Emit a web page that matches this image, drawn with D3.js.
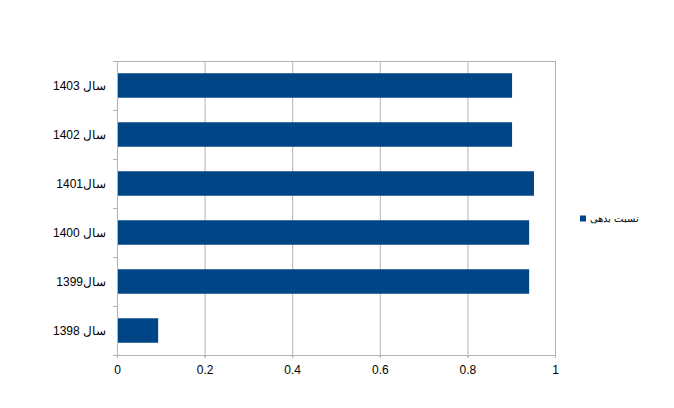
<!DOCTYPE html>
<html lang="fa">
	<head>
		<meta charset="utf-8">
		<title>نسبت بدهی</title>
		<script type="text/javascript" src="https://cdn.jsdelivr.net/npm/d3@7/dist/d3.min.js"></script>
		<style type="text/css">
			body { margin: 0; background: #fff; }
			text { font-family: "Liberation Sans", Arial, sans-serif; }
		</style>
	</head>
	<body>
		<script type="text/javascript">
			//Data, bottom to top
			var categories = ["سال 1398", "سال1399", "سال 1400", "سال1401", "سال 1402", "سال 1403"];
			var values = [0.094, 0.941, 0.941, 0.952, 0.902, 0.902];
			var xTicks = [0, 0.2, 0.4, 0.6, 0.8, 1];
			var seriesName = "نسبت بدهی";

			//Width and height
			var w = 674;
			var h = 408;
			var margin = {top: 61, right: 119, bottom: 53, left: 117};
			var gridColor = "#b3b3b3";
			var barColor = "#004586";

			var svg = d3.select("body")
						.append("svg")
						.attr("width", w)
						.attr("height", h);

			var x = d3.scaleLinear()
					  .domain([0, 1])
					  .range([margin.left, w - margin.right]);

			//top category first
			var y = d3.scaleBand()
					  .domain(categories.slice().reverse())
					  .range([margin.top, h - margin.bottom])
					  .paddingInner(0.5)
					  .paddingOuter(0.25);

			var yBand = d3.scaleBand()
						  .domain(categories.slice().reverse())
						  .range([margin.top, h - margin.bottom]);

			//Gridlines
			svg.selectAll("line.grid")
			   .data(xTicks)
			   .enter()
			   .append("line")
			   .attr("class", "grid")
			   .attr("x1", function(d) { return x(d) + 0.5; })
			   .attr("x2", function(d) { return x(d) + 0.5; })
			   .attr("y1", margin.top)
			   .attr("y2", h - margin.bottom + 3)
			   .attr("stroke", gridColor);

			//top border
			svg.append("line")
			   .attr("x1", x(0))
			   .attr("x2", x(1) + 1)
			   .attr("y1", margin.top + 0.5)
			   .attr("y2", margin.top + 0.5)
			   .attr("stroke", gridColor);

			//Bars
			svg.selectAll("rect.bar")
			   .data(values)
			   .enter()
			   .append("rect")
			   .attr("class", "bar")
			   .attr("x", x(0) + 1)
			   .attr("y", function(d, i) { return y(categories[i]); })
			   .attr("width", function(d) { return x(d) - x(0) - 1; })
			   .attr("height", y.bandwidth())
			   .attr("fill", barColor);

			//X axis
			var xAxis = d3.axisBottom(x)
						  .tickValues(xTicks)
						  .tickSize(3)
						  .tickFormat(d3.format("~g"));

			var gx = svg.append("g")
						.attr("transform", "translate(0," + (h - margin.bottom) + ")")
						.call(xAxis);
			gx.select(".domain").attr("stroke", gridColor).attr("d", "M" + (x(0) - 4) + ",0.5H" + (x(1) + 1));
			gx.selectAll(".tick line").attr("stroke", gridColor);
			gx.selectAll(".tick text")
			  .attr("dy", "1.05em")
			  .attr("font-size", 12)
			  .attr("fill", "#000")
			  .style("font-family", "Liberation Sans, Arial, sans-serif");

			//Y axis line and ticks at band edges
			var edges = categories.map(function(c) { return yBand(c); }).concat([h - margin.bottom]);
			svg.append("line")
			   .attr("x1", x(0) + 0.5)
			   .attr("x2", x(0) + 0.5)
			   .attr("y1", margin.top)
			   .attr("y2", h - margin.bottom)
			   .attr("stroke", gridColor);
			svg.selectAll("line.ytick")
			   .data(edges)
			   .enter()
			   .append("line")
			   .attr("class", "ytick")
			   .attr("x1", x(0) - 4)
			   .attr("x2", x(0))
			   .attr("y1", function(d) { return Math.round(d) + 0.5; })
			   .attr("y2", function(d) { return Math.round(d) + 0.5; })
			   .attr("stroke", gridColor);

			//Category labels
			svg.selectAll("text.cat")
			   .data(categories)
			   .enter()
			   .append("text")
			   .attr("class", "cat")
			   .attr("x", x(0) - 11)
			   .attr("y", function(d) { return yBand(d) + yBand.bandwidth() / 2; })
			   .attr("dy", "0.35em")
			   .attr("text-anchor", "end")
			   .attr("font-size", 12)
			   .attr("fill", "#000")
			   .text(function(d) { return d; });

			//Legend
			var legend = svg.append("g")
							.attr("transform", "translate(580,218.5)");
			legend.append("rect")
				  .attr("x", 0)
				  .attr("y", -3)
				  .attr("width", 6)
				  .attr("height", 6)
				  .attr("fill", barColor);
			legend.append("text")
				  .attr("x", 10)
				  .attr("dy", "0.35em")
				  .attr("font-size", 10)
				  .attr("fill", "#000")
				  .text(seriesName);
		</script>
	</body>
</html>
